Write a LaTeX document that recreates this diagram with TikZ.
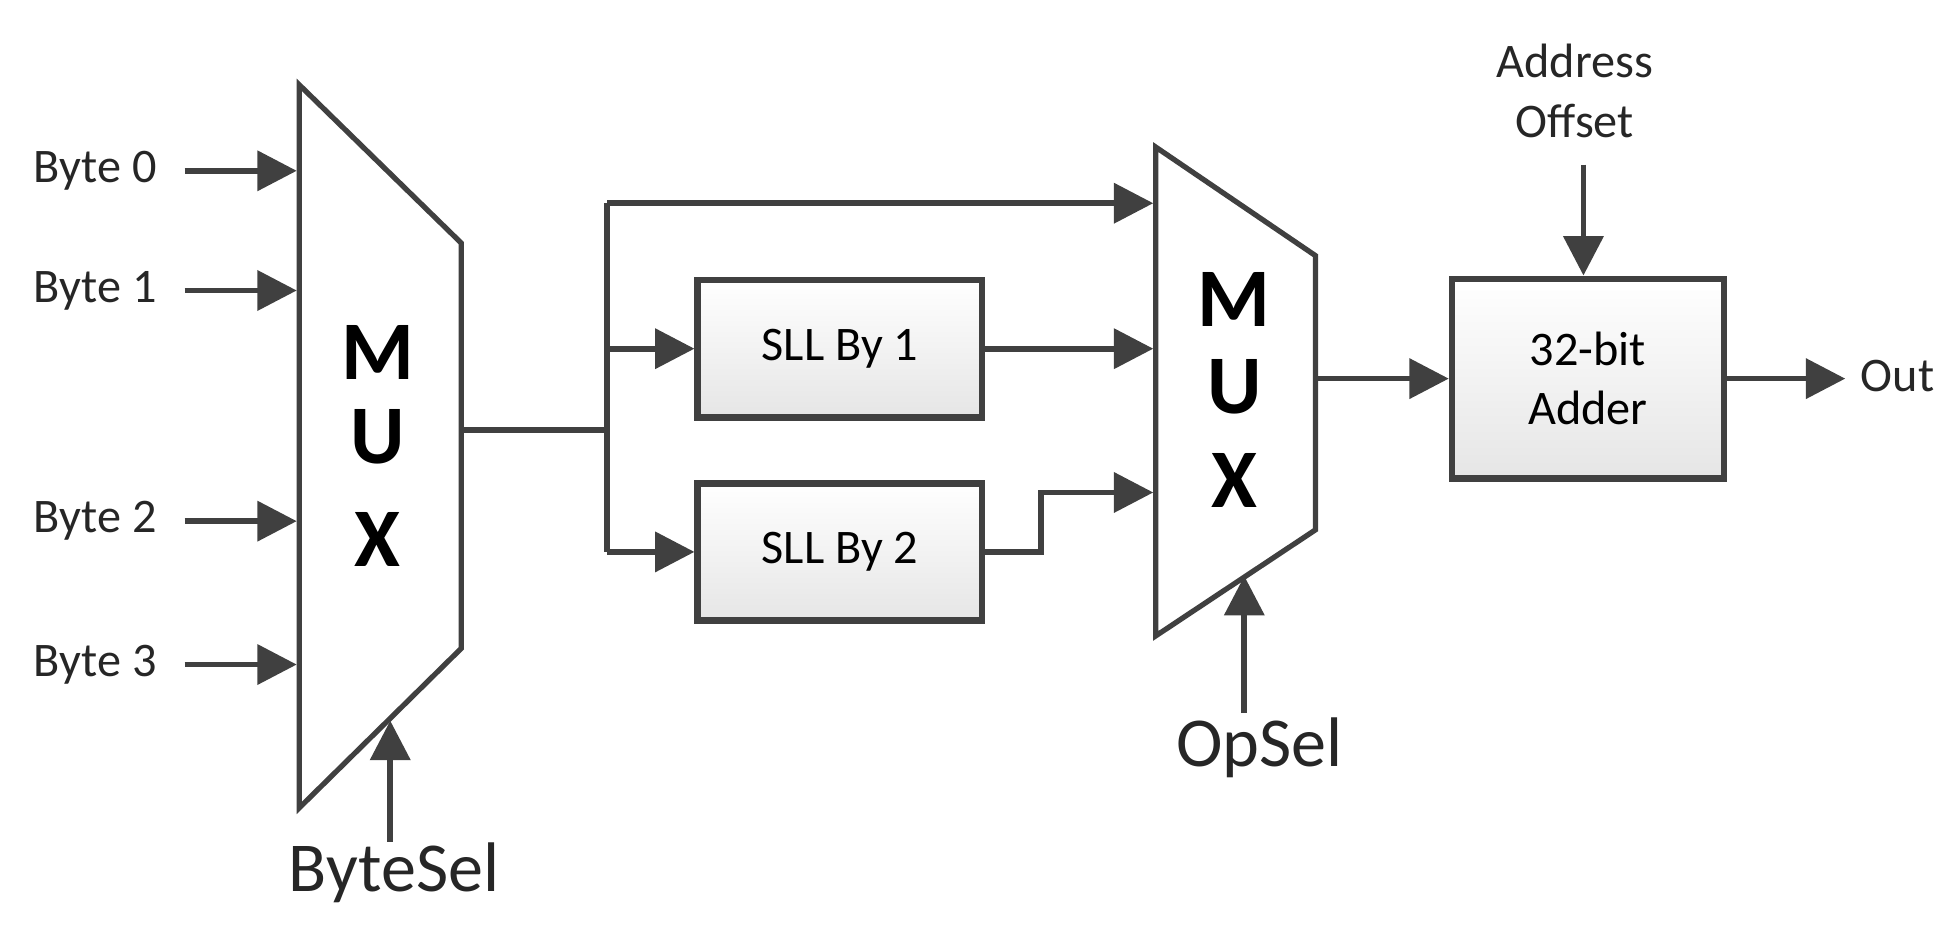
\documentclass[tikz,border=0pt]{standalone}
\usepackage{fontspec}
\setmainfont{Carlito}
\usetikzlibrary{arrows.meta}
\definecolor{ln}{HTML}{404040}
\begin{document}
\begin{tikzpicture}[x=0.01cm,y=-0.01cm,
  wire/.style={draw=ln,line width=1.3pt},
  arr/.style={wire,-{Triangle[length=9pt,width=9pt]}},
  blk/.style={draw=ln,line width=1.5pt,top color=white,bottom color=black!10,minimum width=2.28cm,minimum height=1.1cm,inner sep=0pt,anchor=north west,font=\fontsize{11}{13.5}\selectfont,align=center},
  lbl/.style={font=\fontsize{11}{13.5}\selectfont,text=black!85},
  big/.style={font=\fontsize{16}{18}\selectfont,text=black!85},
  mux/.style={font=\bfseries\fontsize{19}{21}\selectfont}]
\useasboundingbox (0,0) rectangle (1568,743);
% MUX 1
\draw[draw=ln,line width=1.2pt] (240,68) -- (370,195) -- (370,520) -- (240,648) -- cycle;
\node[mux] (m1a) at (303,283) {M};
\node[mux] (m1b) at (303,350) {U};
\node[mux] (m1c) at (303,433) {X};
\foreach \n/\y in {0/137,1/233,2/418,3/533}{
  \node[lbl,anchor=east] (b\n) at (138,\y) {Byte \n};
  \coordinate (bi\n) at (238,\y);
  \draw[arr] (148,\y) -- (bi\n);
}
\node[big] (bs) at (316,700) {ByteSel};
\coordinate (bsT) at (313,578);
\draw[arr] (313,675) -- (bsT);
% junction
\coordinate (m1o) at (370,345);
\coordinate (j) at (487,345);
\coordinate (jt) at (487,163);
\draw[wire] (m1o) -- (j);
% SLL boxes
\node[blk] (s1) at (557,222) {SLL By 1};
\node[blk] (s2) at (557,385) {SLL By 2};
\coordinate (jb) at (jt |- s2.west);
\draw[wire] (jt) -- (jb);
\draw[arr] (jt |- s1.west) -- (s1.west);
\draw[arr] (jb) -- (s2.west);
% MUX 2
\draw[draw=ln,line width=1.2pt] (927,118) -- (1055,205) -- (1055,425) -- (927,510) -- cycle;
\node[mux] (m2a) at (990,240) {M};
\node[mux] (m2b) at (990,310) {U};
\node[mux] (m2c) at (990,385) {X};
\coordinate (i1) at (925,163);
\coordinate (i2) at (925,279);
\coordinate (i3) at (925,395);
\coordinate (kink) at (835,395);
\draw[arr] (jt) -- (i1);
\draw[arr] (s1.east) -- (i2 |- s1.east);
\draw[arr] (s2.east) -| (kink) -- (i3);
\node[big] (os) at (1010,600) {OpSel};
\coordinate (osT) at (998,462);
\draw[arr] (998,572) -- (osT);
% adder
\node[blk,minimum width=2.18cm,minimum height=1.6cm] (add) at (1162,221) {32-bit\\Adder};
\coordinate (m2o) at (1055,303);
\draw[arr] (m2o |- add.west) -- (add.west);
\node[lbl,align=center] (ao) at (1263,73) {Address\\Offset};
\coordinate (aoS) at (1270,132);
\draw[arr] (aoS) -- (aoS |- add.north);
\node[lbl,anchor=west] (out) at (1480,302) {Out};
\draw[arr] (add.east) -- (out.west |- add.east);
\end{tikzpicture}
\end{document}
